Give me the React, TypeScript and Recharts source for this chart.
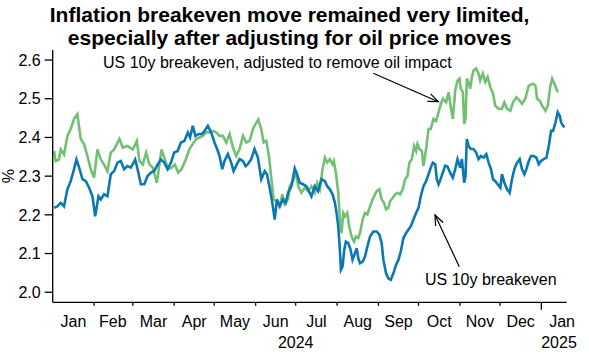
import React from 'react';
import { LineChart, Line, XAxis, YAxis } from 'recharts';

// days since 1 Jan 2024, breakeven in %
const breakeven: [number, number][] = [
  [1, 2.218], [3.5, 2.222], [6, 2.231], [8.5, 2.222], [11, 2.266], [13.5, 2.287], [16, 2.318], [17.8, 2.343],
  [19.8, 2.322], [22.3, 2.292], [24.8, 2.287], [27.3, 2.27], [29.8, 2.248], [31.8, 2.196], [34.3, 2.248], [36, 2.24],
  [38.5, 2.253], [41, 2.248], [43.5, 2.305], [46, 2.313], [48.5, 2.335], [51, 2.339], [53.5, 2.318], [56, 2.326],
  [58.5, 2.322], [61.8, 2.343], [63.6, 2.318], [66, 2.279], [68.6, 2.279], [71, 2.3], [73.6, 2.309], [76, 2.313],
  [78.6, 2.33], [81, 2.343], [83.6, 2.335], [86, 2.318], [88.6, 2.335], [91, 2.361], [93.6, 2.365], [96, 2.387],
  [98.6, 2.391], [101.2, 2.413], [102.9, 2.4], [104.9, 2.43], [106.9, 2.404], [109.4, 2.409], [111.9, 2.409], [113.7, 2.417],
  [116.2, 2.43], [118.7, 2.413], [121.2, 2.387], [123.7, 2.365], [125, 2.352], [127, 2.318], [128.7, 2.339], [131.2, 2.357],
  [133.7, 2.335], [135.5, 2.313], [138, 2.331], [140, 2.344], [142.5, 2.339], [144.5, 2.326], [146.2, 2.331], [148.7, 2.344],
  [151.2, 2.37], [153.7, 2.348], [156.2, 2.292], [158.8, 2.313], [160.5, 2.305], [162.5, 2.27], [164.5, 2.231], [166.3, 2.188],
  [168, 2.24], [170, 2.222], [172.5, 2.24], [174.5, 2.231], [176.3, 2.257], [178.8, 2.274], [181.3, 2.32], [183, 2.305],
  [185, 2.283], [187.5, 2.279], [190, 2.274], [193.8, 2.248], [196.3, 2.274], [198.8, 2.261], [201.3, 2.292], [203.9, 2.287],
  [205.6, 2.274], [207.6, 2.266], [209.6, 2.253], [211.4, 2.231], [212.6, 2.205], [213.9, 2.17], [215.1, 2.11], [215.9, 2.058],
  [217.1, 2.066], [218.4, 2.11], [219.6, 2.131], [221.4, 2.127], [223.1, 2.11], [224.6, 2.084], [226.4, 2.101], [227.7, 2.114],
  [228.9, 2.088], [230.2, 2.075], [232.2, 2.079], [233.9, 2.092], [235.7, 2.118], [237.7, 2.144], [240.2, 2.157], [242.7, 2.157],
  [244.7, 2.149], [246.4, 2.127], [247.7, 2.084], [249.7, 2.049], [251.4, 2.036], [253.2, 2.032], [255.2, 2.049], [257.2, 2.071],
  [259, 2.084], [260.7, 2.105], [262.7, 2.14], [264.7, 2.153], [266.5, 2.162], [268.2, 2.17], [270.2, 2.188], [272.2, 2.205],
  [274, 2.218], [275.7, 2.248], [277.7, 2.274], [279.7, 2.287], [281.5, 2.305], [283.2, 2.322], [284.7, 2.335], [286.5, 2.331],
  [287.7, 2.292], [289, 2.279], [290.3, 2.29], [292.2, 2.309], [294, 2.327], [295.7, 2.325], [297.7, 2.309], [299.7, 2.296],
  [301.5, 2.318], [303.2, 2.344], [305.2, 2.322], [306.5, 2.344], [308.2, 2.283], [309.2, 2.3], [310.2, 2.396], [311.5, 2.378],
  [313.2, 2.37], [315.2, 2.37], [317.2, 2.361], [319, 2.344], [320.8, 2.352], [322.8, 2.348], [324.8, 2.357], [326.5, 2.335],
  [328.3, 2.318], [329.8, 2.292], [331.5, 2.287], [333.3, 2.279], [335.3, 2.27], [336.5, 2.305], [338.3, 2.283], [340.3, 2.266],
  [342.3, 2.257], [344, 2.292], [345.8, 2.318], [347.8, 2.335], [349.8, 2.344], [351.5, 2.318], [353.3, 2.305], [354.8, 2.318],
  [356.6, 2.339], [358.3, 2.352], [360.3, 2.352], [362.3, 2.348], [364.1, 2.331], [365.8, 2.339], [367.8, 2.344], [369.8, 2.348],
  [371.6, 2.378], [373.3, 2.417], [374.8, 2.417], [376.6, 2.439], [378.3, 2.465], [379.8, 2.456], [380.8, 2.439], [382.3, 2.43],
  [383.3, 2.426],
];

const adjusted: [number, number][] = [
  [1, 2.365], [2.2, 2.339], [4.7, 2.343], [6, 2.369], [8.5, 2.356], [11, 2.404], [13.5, 2.422], [16, 2.448],
  [18.5, 2.46], [21, 2.396], [23.5, 2.383], [26, 2.352], [28.5, 2.318], [31, 2.296], [33.5, 2.369], [36, 2.343],
  [38.5, 2.33], [41, 2.313], [43.5, 2.361], [46, 2.369], [50, 2.396], [52.5, 2.374], [56, 2.378], [60, 2.369],
  [63, 2.391], [65, 2.339], [67.5, 2.33], [70, 2.361], [72.5, 2.33], [75, 2.322], [78, 2.283], [81.5, 2.369],
  [84, 2.343], [86.5, 2.318], [89, 2.322], [91.5, 2.33], [94, 2.309], [96.5, 2.318], [99.9, 2.345], [102.4, 2.37],
  [104.9, 2.383], [107.4, 2.396], [109.9, 2.4], [112.4, 2.404], [114.9, 2.413], [117.4, 2.413], [119.9, 2.417], [122.4, 2.413],
  [124.9, 2.404], [127.5, 2.404], [130, 2.387], [132.5, 2.409], [135, 2.374], [137.5, 2.352], [140, 2.37], [142.5, 2.404],
  [145, 2.387], [147.5, 2.391], [150, 2.422], [152, 2.435], [154, 2.446], [156.2, 2.422], [158, 2.387], [160, 2.391],
  [162, 2.352], [163.8, 2.292], [165.5, 2.24], [167.5, 2.235], [170, 2.222], [172, 2.253], [173.8, 2.227], [176.3, 2.24],
  [177.5, 2.274], [180, 2.287], [182.5, 2.313], [183.8, 2.274], [186.3, 2.257], [188.8, 2.27], [191.3, 2.261], [193.8, 2.274],
  [196.4, 2.257], [198.1, 2.283], [200.1, 2.266], [202.1, 2.318], [203.9, 2.348], [205.6, 2.335], [207.6, 2.344], [209.6, 2.331],
  [210.6, 2.339], [212.1, 2.309], [213.9, 2.257], [215.1, 2.188], [216.4, 2.153], [217.6, 2.205], [218.9, 2.196], [220.6, 2.205],
  [222.1, 2.17], [223.9, 2.144], [225.7, 2.131], [227.2, 2.144], [228.9, 2.14], [230.2, 2.153], [232.2, 2.188], [233.9, 2.205],
  [235.7, 2.201], [237.7, 2.222], [239.7, 2.24], [241.4, 2.253], [242.7, 2.261], [244.7, 2.266], [246.4, 2.24], [248.2, 2.231],
  [249.7, 2.214], [251.4, 2.218], [252.7, 2.235], [254.7, 2.244], [256.5, 2.253], [258.2, 2.257], [260.2, 2.253], [262.2, 2.266],
  [264, 2.292], [265.7, 2.3], [267.2, 2.335], [269, 2.344], [270.7, 2.378], [272.2, 2.365], [273.2, 2.383], [274.7, 2.37],
  [276.5, 2.365], [277.7, 2.326], [279.7, 2.37], [281.5, 2.422], [283.2, 2.422], [285.2, 2.448], [287.2, 2.443], [289, 2.465],
  [290.8, 2.487], [292.3, 2.5], [294.7, 2.491], [296.5, 2.517], [298.2, 2.478], [299.7, 2.448], [301.5, 2.521], [303.2, 2.547],
  [304.7, 2.552], [305.7, 2.526], [307.2, 2.517], [308.2, 2.435], [309.2, 2.448], [310.2, 2.552], [311.5, 2.543], [312.7, 2.526],
  [314, 2.556], [315.2, 2.573], [317.2, 2.578], [319, 2.565], [320.2, 2.547], [322.2, 2.565], [324, 2.543], [325.8, 2.556],
  [327.8, 2.53], [329.8, 2.513], [331.5, 2.482], [334, 2.474], [336.5, 2.474], [338.3, 2.491], [340.3, 2.474], [342.8, 2.469],
  [344.8, 2.491], [347.3, 2.504], [349.8, 2.495], [351.5, 2.487], [354, 2.5], [356.6, 2.534], [359.8, 2.539], [361.6, 2.534],
  [362.8, 2.5], [364.8, 2.495], [366.6, 2.482], [369.1, 2.469], [370.8, 2.482], [372.8, 2.534], [374.1, 2.552], [375.8, 2.539],
  [378.3, 2.517],
];

const monthStarts = [31, 60, 91, 121, 152, 182, 213, 244, 274, 305, 335, 366];
const monthMids = [15.5, 45, 75.5, 106, 136.5, 167, 197.5, 228.5, 259, 289.5, 320, 350.5, 381.5];
const monthLabels = ['Jan', 'Feb', 'Mar', 'Apr', 'May', 'Jun', 'Jul', 'Aug', 'Sep', 'Oct', 'Nov', 'Dec', 'Jan'];
const yearLabels: [number, string][] = [[182, '2024'], [381.5, '2025']];
const yTicks = [2.0, 2.1, 2.2, 2.3, 2.4, 2.5, 2.6];

const FONT = '"Liberation Sans", Arial, sans-serif';

// merge both series on one day axis
const rows = (() => {
  const map = new Map<number, any>();
  breakeven.forEach(([d, v]) => map.set(d, { ...(map.get(d) || { d }), be: v }));
  adjusted.forEach(([d, v]) => map.set(d, { ...(map.get(d) || { d }), adj: v }));
  return Array.from(map.values()).sort((a, b) => a.d - b.d);
})();

const xTicks = [...monthStarts, ...monthMids].sort((a, b) => a - b);

const MonthTick = ({ x, y, payload }: any) => {
  const v = payload.value;
  const si = monthStarts.indexOf(v);
  const mi = monthMids.indexOf(v);
  const year = yearLabels.find((yl) => yl[0] === v);
  return (
    <g>
      {si >= 0 && (
        <line x1={x} x2={x} y1={y} y2={y + (v === 366 ? 7.5 : 3.5)} stroke="#000" strokeWidth={1.3} />
      )}
      {mi >= 0 && (
        <text x={x} y={y + 25} textAnchor="middle" fontSize={16} fontFamily={FONT} fill="#000">
          {monthLabels[mi]}
        </text>
      )}
      {year && (
        <text x={v === 381.5 ? x - 3 : x} y={y + 46} textAnchor="middle" fontSize={16} fontFamily={FONT} fill="#000">
          {year[1]}
        </text>
      )}
    </g>
  );
};

export default function App() {
  return (
    <div style={{ position: 'absolute', left: 0, top: 0, width: 589, height: 362, background: '#fff' }}>
      <LineChart width={589} height={362} data={rows} margin={{ top: 50, right: 22.3, bottom: 0, left: 0 }}>
        <XAxis
          dataKey="d"
          type="number"
          domain={[0, 385]}
          ticks={xTicks}
          interval={0}
          tick={<MonthTick />}
          tickLine={false}
          tickSize={0}
          tickMargin={0}
          height={59.7}
          axisLine={{ stroke: '#000', strokeWidth: 1.3 }}
          allowDataOverflow
        />
        <YAxis
          domain={[1.974, 2.626]}
          ticks={yTicks}
          interval={0}
          tickFormatter={(v: number) => v.toFixed(1)}
          tick={{ fill: '#000', fontSize: 16, fontFamily: FONT }}
          tickSize={8}
          tickMargin={4}
          tickLine={{ stroke: '#000', strokeWidth: 1.3 }}
          axisLine={{ stroke: '#000', strokeWidth: 1.3 }}
          width={52.7}
          allowDataOverflow
        />
        <YAxis
          yAxisId="frame"
          orientation="right"
          width={0}
          tick={false}
          tickLine={false}
          axisLine={{ stroke: '#000', strokeWidth: 1.3 }}
        />
        <Line
          type="linear"
          dataKey="adj"
          stroke="#72c073"
          strokeWidth={2.6}
          dot={false}
          connectNulls
          isAnimationActive={false}
        />
        <Line
          type="linear"
          dataKey="be"
          stroke="#0b78b4"
          strokeWidth={2.6}
          dot={false}
          connectNulls
          isAnimationActive={false}
        />
      </LineChart>
      <svg
        width={589}
        height={362}
        style={{ position: 'absolute', left: 0, top: 0, pointerEvents: 'none' }}
        fontFamily={FONT}
      >
        <text x={289.6} y={21.5} textAnchor="middle" fontSize={21} fontWeight="bold" fill="#000">
          Inflation breakeven move remained very limited,
        </text>
        <text x={289.6} y={44.5} textAnchor="middle" fontSize={21} fontWeight="bold" fill="#000">
          especially after adjusting for oil price moves
        </text>
        <text x={9} y={176} textAnchor="middle" fontSize={16} fill="#000" transform="rotate(-90 9 176)" dy={5}>
          %
        </text>
        <text x={103} y={68.3} fontSize={16} fill="#000">
          US 10y breakeven, adjusted to remove oil impact
        </text>
        <text x={425} y={285} fontSize={16} fill="#000">
          US 10y breakeven
        </text>
        <g stroke="#000" strokeWidth={1.2} fill="none">
          <line x1={373.3} y1={73.3} x2={438.3} y2={101.7} />
          <polyline points="430.6,93.8 438.3,101.7 427.3,101.4" />
          <line x1={459.3} y1={266.7} x2={435} y2={215} />
          <polyline points="435.6,226 435,215 443.1,222.5" />
        </g>
      </svg>
    </div>
  );
}
